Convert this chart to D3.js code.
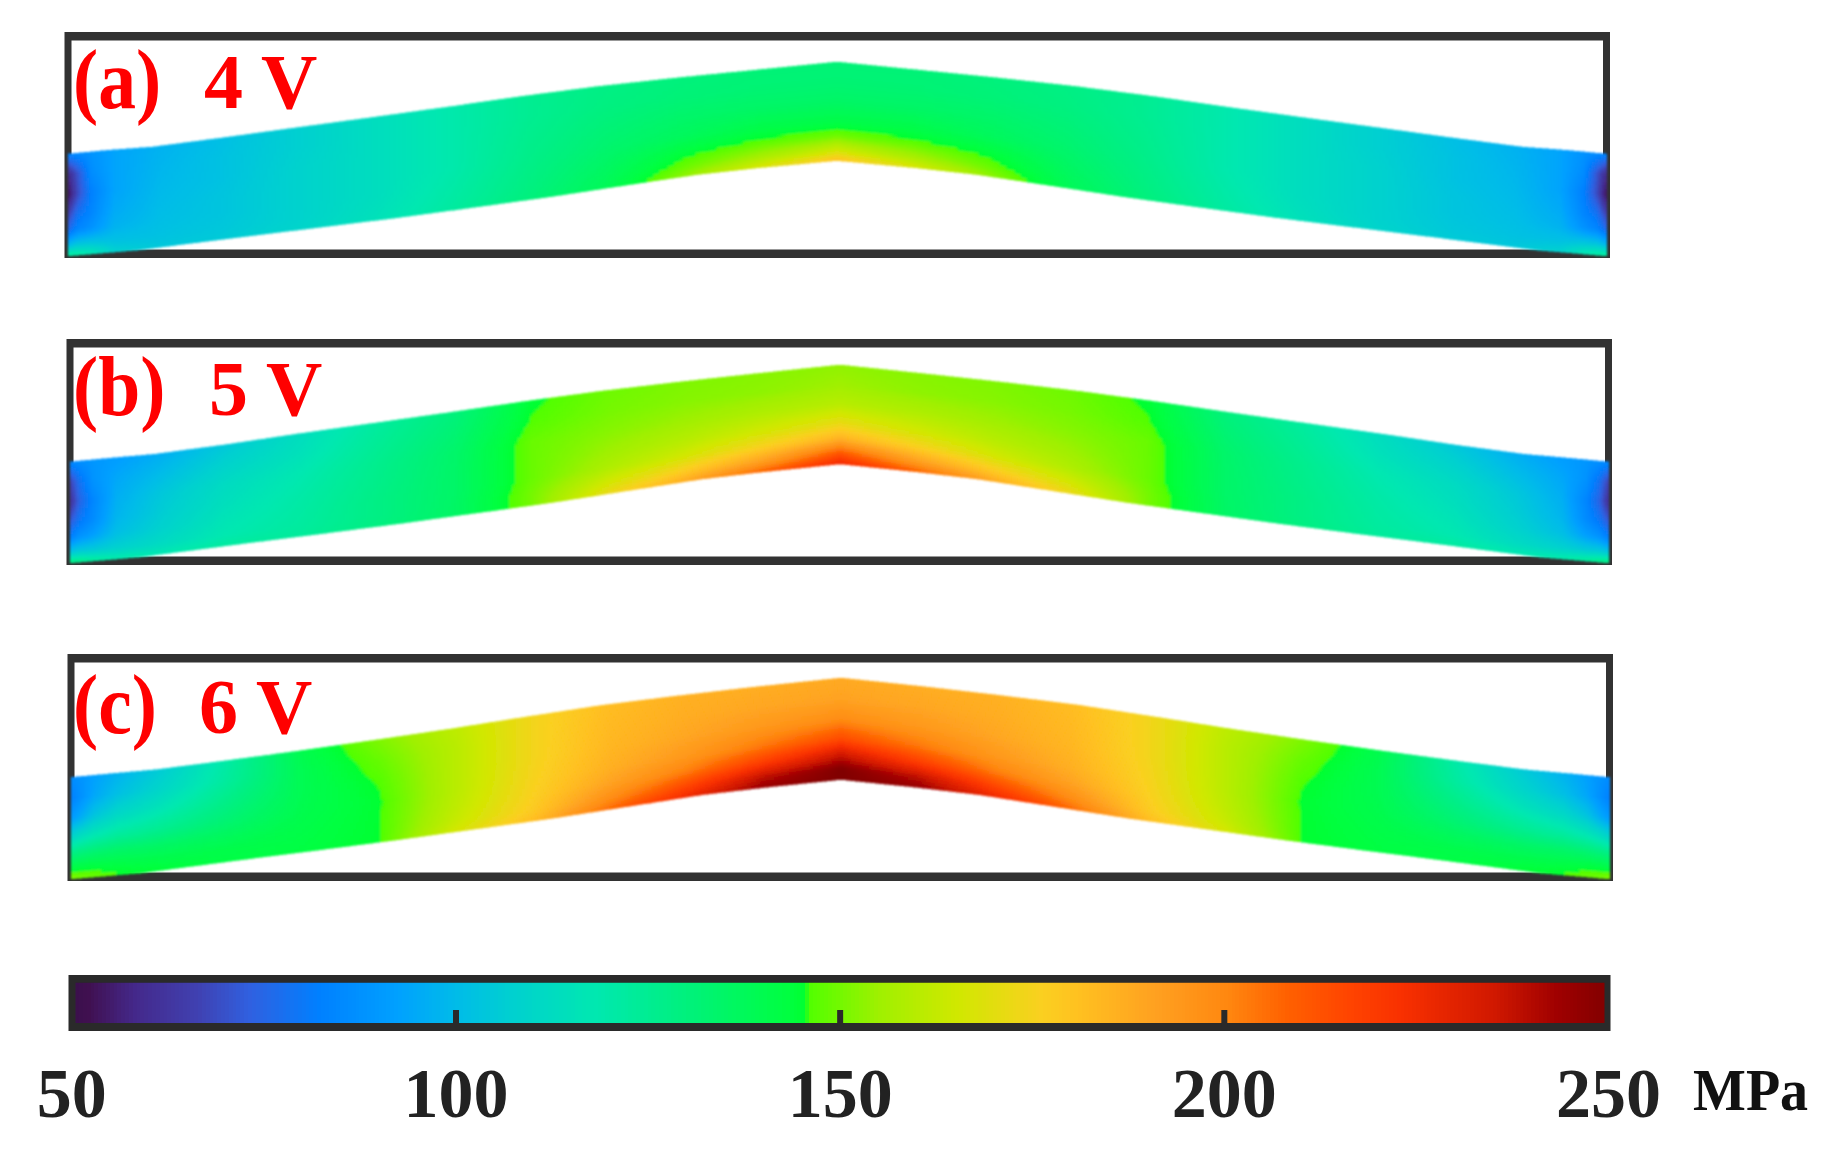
<!DOCTYPE html>
<html>
<head>
<meta charset="utf-8">
<script src="https://cdn.jsdelivr.net/npm/d3@7"></script>
<style>
  body { margin: 0; background: #fff; }
  svg { display: block; }
  text { font-family: "Liberation Serif", serif; font-weight: bold; }
</style>
</head>
<body>
<script>
// Colour bar: stress (MPa) -> colour. Note the jump near 145.5
var colorValues = [50, 52, 58, 66, 73, 82, 92, 100, 107, 118, 129, 143, 145.4, 145.6, 155, 165, 176, 181, 191, 200, 208, 216, 223, 235, 243, 250];
var colorStops = ["#3a0f4c", "#401050", "#44288a", "#4040b0", "#3060e0", "#0080ff", "#00a0ff", "#00bce8", "#00d0d0", "#00e8b0", "#00f080", "#00ff40", "#00ff30", "#50ff00", "#a0f000", "#d0e800", "#fad020", "#ffc020", "#ffa020", "#ff8810", "#ff6000", "#ff4400", "#f83000", "#d01800", "#a00000", "#800000"];
var axisTicks = [50, 100, 150, 200, 250];
var innerTicks = [100, 150, 200];

// Beam outline, % of frame height, at fractions of the half span
var edgeStationsTop = [0, 0.05, 0.11, 0.2, 0.29, 0.39, 0.49, 0.59, 0.69, 0.79, 0.89, 1];
var edgeStationsBottom = [0, 0.09, 0.225, 0.325, 0.425, 0.525, 0.625, 0.76, 0.82, 0.9, 1];
var topEdgeA = [54.0, 52.4, 50.9, 46.9, 42.7, 38.1, 33.4, 28.5, 24.1, 20.4, 17.0, 13.3];
var topEdgeB = [54.4, 52.8, 51.0, 46.9, 42.3, 37.5, 32.7, 27.7, 23.1, 19.1, 15.4, 11.5];
var topEdgeC = [54.4, 52.8, 51.0, 47.1, 43.0, 38.2, 33.2, 27.8, 22.6, 18.4, 14.5, 10.6];
var bottomEdgeA = [99.1, 96.5, 90.7, 86.5, 82.3, 77.7, 73.0, 66.0, 63.0, 60.0, 56.9];
var bottomEdgeB = [99.1, 96.5, 90.5, 86.2, 81.8, 77.1, 72.4, 65.2, 62.0, 58.8, 55.3];
var bottomEdgeC = [99.1, 96.5, 90.5, 86.2, 81.8, 77.1, 72.4, 65.2, 62.0, 58.8, 55.3];

// Stress tables. One line per span station, one column per depth station
var spanStations = [0, 0.012, 0.03, 0.06, 0.12, 0.2, 0.3, 0.4, 0.5, 0.6, 0.7, 0.8, 0.9, 1];
var depthStations = [0, 0.2, 0.4, 0.6, 0.75, 0.9, 1];
var stressA = [
  [84, 58, 52, 66, 76, 100, 124],
  [86, 70, 68, 78, 84, 104, 122],
  [88, 86, 82, 84, 88, 104, 118],
  [93, 93, 93, 95, 97, 102, 108],
  [97, 98, 99, 100, 101, 102, 104],
  [101, 102, 102, 103, 103, 104, 105],
  [107, 107, 108, 108, 108, 108, 109],
  [113, 113, 113, 113, 113, 114, 115],
  [119, 119, 119, 119, 120, 121, 122],
  [125, 125, 126, 127, 128, 129, 130],
  [128, 129, 131, 133, 135, 137, 138],
  [130, 131, 134, 137, 143, 148, 153],
  [131, 132, 135, 141, 147, 157, 167],
  [131, 132, 135, 141, 149, 165, 181]
];
var stressB = [
  [85, 66, 60, 72, 82, 104, 130],
  [87, 78, 74, 80, 88, 106, 128],
  [89, 88, 84, 86, 92, 106, 124],
  [91, 94, 96, 98, 101, 108, 120],
  [96, 100, 104, 106, 108, 112, 118],
  [104, 108, 112, 114, 116, 118, 122],
  [113, 115, 118, 120, 121, 122, 123],
  [122, 124, 126, 127, 128, 128, 129],
  [130, 132, 134, 134.5, 134.5, 135, 135],
  [144.5, 146, 148.5, 148.5, 148.5, 150, 150],
  [149, 150, 152, 155, 158, 166, 172],
  [151, 152, 155, 160, 166, 178, 188],
  [152, 153, 158, 166, 176, 192, 208],
  [153, 155, 160, 172, 186, 212, 226]
];
var stressC = [
  [86, 82, 90, 110, 128, 142, 152],
  [88, 87, 95, 114, 130, 143, 150],
  [92, 94, 103, 118, 132, 143, 149],
  [97, 101, 110, 122, 134, 142, 146],
  [106, 110, 117, 126, 135, 141, 144],
  [120, 122, 127, 132, 137, 141, 142],
  [140, 139, 139, 140, 141, 142, 142.5],
  [151, 148.2, 146, 144.8, 145, 145, 145.2],
  [161, 160, 160, 160, 161, 163, 166],
  [174, 174, 174, 175, 176, 178, 182],
  [182, 183, 184, 186, 190, 198, 206],
  [186, 187, 189, 194, 202, 216, 226],
  [187, 189, 194, 204, 218, 238, 245],
  [188, 190, 198, 214, 234, 250, 250]
];

var panels = [
  {tag: "(a)", volt: "4 V", stress: stressA, top: topEdgeA, bottom: bottomEdgeA, left: 64.5, right: 1610, y0: 32, y1: 258, apex: 837, baseline: 108, voltX: 204},
  {tag: "(b)", volt: "5 V", stress: stressB, top: topEdgeB, bottom: bottomEdgeB, left: 66.5, right: 1612, y0: 339, y1: 565, apex: 840, baseline: 415, voltX: 209},
  {tag: "(c)", volt: "6 V", stress: stressC, top: topEdgeC, bottom: bottomEdgeC, left: 67.5, right: 1613, y0: 654, y1: 881, apex: 841, baseline: 733, voltX: 199}
];

var width = 1832, height = 1152, frameW = 7, frameH = 8.5, overlap = 3.5, tagX = 73;

var color = d3.scaleLinear().domain(colorValues).range(colorStops).clamp(true);

var svg = d3.select("body").append("svg")
    .attr("width", width)
    .attr("height", height);

var defs = svg.append("defs");
defs.append("filter").attr("id", "soft").append("feGaussianBlur").attr("stdDeviation", 1);
defs.append("filter").attr("id", "softer").append("feGaussianBlur").attr("stdDeviation", 0.6);

// one row scale per depth station, then linear across the depth
function stressAt(rowScales, u, t) {
  var col = depthStations.map(function(d, i) { return rowScales[i](u); });
  return d3.scaleLinear().domain(depthStations).range(col)(t);
}

var spanSteps = d3.range(0, 1, 1 / 256);
var depthSteps = d3.range(0, 1, 1 / 32);

panels.forEach(function(p) {
  var y = d3.scaleLinear().domain([0, 100]).range([p.y0, p.y1]);
  var topEdge = d3.scaleLinear().domain(edgeStationsTop).range(p.top);
  var bottomEdge = d3.scaleLinear().domain(edgeStationsBottom).range(p.bottom);
  var rowScales = depthStations.map(function(d, j) {
    return d3.scaleLinear().domain(spanStations).range(p.stress.map(function(r) { return r[j]; }));
  });

  var sides = [
    d3.scaleLinear().domain([0, 1]).range([p.left + overlap, p.apex]),
    d3.scaleLinear().domain([0, 1]).range([p.right - overlap, p.apex])
  ];

  var cells = [];
  sides.forEach(function(x) {
    spanSteps.forEach(function(u) {
      var u1 = u + 1 / 256;
      depthSteps.forEach(function(t) {
        var t1 = t + 1 / 32;
        var yAt = function(a, b) { return y(topEdge(a) + (bottomEdge(a) - topEdge(a)) * b); };
        cells.push({
          d: "M" + x(u) + "," + yAt(u, t) + "L" + x(u1) + "," + yAt(u1, t) +
             "L" + x(u1) + "," + yAt(u1, t1) + "L" + x(u) + "," + yAt(u, t1) + "Z",
          value: stressAt(rowScales, u + 0.5 / 256, t + 0.5 / 32)
        });
      });
    });
  });

  // frame goes under the beam, the beam ends lie over it
  svg.append("path")
      .attr("fill", "#333")
      .attr("fill-rule", "evenodd")
      .attr("filter", "url(#softer)")
      .attr("d", "M" + p.left + "," + p.y0 + "H" + p.right + "V" + p.y1 + "H" + p.left + "Z" +
                 "M" + (p.left + frameW) + "," + (p.y0 + frameH) + "H" + (p.right - frameW) + "V" + (p.y1 - frameH) + "H" + (p.left + frameW) + "Z");

  svg.append("g")
      .attr("class", "field")
      .attr("filter", "url(#soft)")
      .attr("shape-rendering", "crispEdges")
    .selectAll("path")
    .data(cells)
    .enter().append("path")
      .attr("d", function(d) { return d.d; })
      .attr("fill", function(d) { return color(d.value); })
      .attr("stroke", function(d) { return color(d.value); })
      .attr("stroke-width", 0.6);

  svg.append("text")
      .attr("transform", "translate(" + tagX + "," + p.baseline + ") scale(0.9,1)")
      .attr("fill", "#ff0000")
      .style("font-size", "84px")
      .text(p.tag);
  svg.append("text")
      .attr("x", p.voltX)
      .attr("y", p.baseline)
      .attr("fill", "#ff0000")
      .style("font-size", "78px")
      .text(p.volt);
});

// Colour bar
var barX = d3.scaleLinear().domain([50, 250]).range([71.3, 1608]);
var barTop = 975, barBottom = 1031;

svg.append("g")
    .attr("shape-rendering", "crispEdges")
  .selectAll("rect")
  .data(d3.range(50, 250, 0.5))
  .enter().append("rect")
    .attr("x", function(d) { return barX(d); })
    .attr("y", barTop)
    .attr("width", barX(50.5) - barX(50) + 1)
    .attr("height", barBottom - barTop)
    .attr("fill", function(d) { return color(d); });

svg.append("path")
    .attr("fill", "#2a2a2a")
    .attr("fill-rule", "evenodd")
    .attr("filter", "url(#softer)")
    .attr("d", "M68.5,975H1610.5V1031H68.5Z M75.5,982.7H1604.5V1023H75.5Z");

// short ticks inside the bar
svg.append("g")
    .attr("transform", "translate(0,1027)")
    .call(d3.axisBottom(barX).tickValues(innerTicks).tickSize(-17).tickFormat(""))
    .call(function(g) { g.select(".domain").remove(); })
    .call(function(g) { g.selectAll("line").attr("stroke", "#2a2a2a").attr("stroke-width", 6); });

// tick labels
svg.append("g")
    .attr("transform", "translate(0,1117)")
    .call(d3.axisBottom(barX).tickValues(axisTicks).tickSize(0))
    .call(function(g) { g.select(".domain").remove(); })
    .call(function(g) {
      g.selectAll("text")
          .attr("y", 0).attr("dy", 0)
          .attr("fill", "#222")
          .style("font-family", "'Liberation Serif', serif")
          .style("font-size", "70px");
    });

svg.append("text")
    .attr("transform", "translate(1693,1110) scale(0.95,1)")
    .attr("fill", "#111")
    .style("font-size", "59px")
    .text("MPa");
</script>
</body>
</html>
